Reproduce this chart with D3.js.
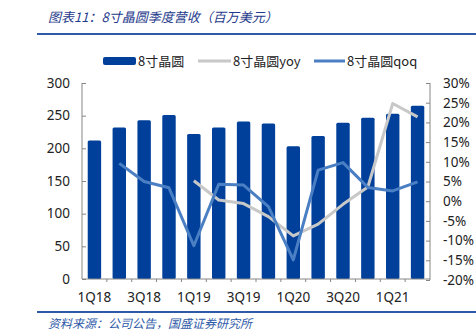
<!DOCTYPE html>
<html>
<head>
<meta charset="utf-8">
<script src="https://cdn.jsdelivr.net/npm/d3@7"></script>
<style>
  body { margin: 0; background: #fff; }
  svg { display: block; }
</style>
</head>
<body>
<svg width="476" height="336"></svg>
<script>
const quarters = ["1Q18", "2Q18", "3Q18", "4Q18", "1Q19", "2Q19", "3Q19", "4Q19",
                  "1Q20", "2Q20", "3Q20", "4Q20", "1Q21", "2Q21"];
const revenue = [212, 232, 243, 251, 222, 232, 241, 238, 203, 219, 239, 247, 253, 265];
const yoy = [null, null, null, null, 5.2, 0.3, -0.6, -3.9, -8.8, -5.8, -0.8, 3.6, 24.8, 21.4];
const qoq = [null, 9.6, 5.0, 3.4, -11.3, 4.3, 4.1, -1.4, -14.9, 7.9, 9.8, 3.5, 2.6, 4.9];
const leftTicks = [0, 50, 100, 150, 200, 250, 300];
const rightTicks = [-20, -15, -10, -5, 0, 5, 10, 15, 20, 25, 30];
const shownLabels = ["1Q18", "3Q18", "1Q19", "3Q19", "1Q20", "3Q20", "1Q21"];

const svg = d3.select("svg");
const font = "'Noto Sans', 'DejaVu Sans', sans-serif";
const cjk = "'Noto Sans CJK SC', sans-serif";

const x = d3.scaleBand().domain(quarters).range([82, 430]).paddingInner(0.46).paddingOuter(0.23);
const yL = d3.scaleLinear().domain([0, 300]).range([279, 83]);
const yR = d3.scaleLinear().domain([-20, 30]).range([280, 83]);

// title + rules
svg.append("text").attr("x", 48).attr("y", 22)
    .attr("font-family", cjk).attr("font-size", 13).attr("font-style", "italic")
    .attr("fill", "#1f3b8c").text("图表11：8寸晶圆季度营收（百万美元）");
svg.append("line").attr("x1", 37).attr("x2", 476).attr("y1", 34).attr("y2", 34)
    .attr("stroke", "#2e5aa8").attr("stroke-width", 2);
svg.append("line").attr("x1", 37).attr("x2", 476).attr("y1", 312).attr("y2", 312)
    .attr("stroke", "#2e5aa8").attr("stroke-width", 2);
svg.append("text").attr("x", 48).attr("y", 328)
    .attr("font-family", cjk).attr("font-size", 12).attr("font-style", "italic")
    .attr("fill", "#2e5aa8").text("资料来源：公司公告，国盛证券研究所");

// bars
svg.append("g").selectAll("rect")
    .data(quarters)
    .enter().append("rect")
    .attr("x", d => x(d))
    .attr("width", x.bandwidth())
    .attr("y", (d, i) => yL(revenue[i]))
    .attr("height", (d, i) => yL(0) - yL(revenue[i]))
    .attr("rx", 1.5)
    .attr("fill", "#00409a");

// lines
const cx = d => x(d) + x.bandwidth() / 2;
function drawLine(vals, color) {
    const line = d3.line()
        .defined(d => d[1] !== null)
        .x(d => cx(d[0]))
        .y(d => yR(d[1]));
    svg.append("path")
        .datum(quarters.map((q, i) => [q, vals[i]]))
        .attr("d", line)
        .attr("fill", "none")
        .attr("stroke", color)
        .attr("stroke-width", 3)
        .attr("stroke-linejoin", "round");
}
drawLine(yoy, "#c8c8c8");
drawLine(qoq, "#4a7fc4");

// axes
const axisColor = "#868686";
const gL = svg.append("g").attr("transform", "translate(82,0)")
    .call(d3.axisRight(yL).tickValues(leftTicks).tickSize(4).tickFormat(d3.format("d")));
gL.selectAll("text").attr("x", -12).attr("text-anchor", "end");
const gR = svg.append("g").attr("transform", "translate(430,0)")
    .call(d3.axisLeft(yR).tickValues(rightTicks).tickSize(4).tickFormat(d => d + "%"));
gR.selectAll("text").attr("x", 13).attr("text-anchor", "start");

const gX = svg.append("g").attr("transform", "translate(0,279)")
    .call(d3.axisBottom(x).tickSize(0).tickFormat(d => shownLabels.includes(d) ? d : ""));
gX.selectAll("text").attr("dy", 0).attr("y", 23);
// small ticks at band boundaries
gX.selectAll(".bt")
    .data(quarters.slice(1))
    .enter().append("line")
    .attr("x1", d => x(d) - x.step() * x.paddingInner() / 2)
    .attr("x2", d => x(d) - x.step() * x.paddingInner() / 2)
    .attr("y1", 0).attr("y2", 3)
    .attr("stroke", axisColor);

[gL, gR, gX].forEach(g => {
    g.select(".domain").attr("stroke", axisColor);
    g.selectAll(".tick line").attr("stroke", axisColor);
    g.selectAll("text").attr("font-family", font).attr("font-size", 13.5).attr("fill", "#222");
});
gL.select(".domain").attr("d", "M0,83V279");
gR.select(".domain").attr("d", "M0,83V280");
gX.select(".domain").attr("d", "M82,0H430");

// legend
const lg = svg.append("g").attr("font-size", 13).attr("fill", "#222");
lg.append("rect").attr("x", 103).attr("y", 57).attr("width", 33).attr("height", 8).attr("rx", 2).attr("fill", "#00409a");
lg.append("text").attr("x", 138).attr("y", 66).attr("font-family", cjk).text("8寸晶圆");
lg.append("line").attr("x1", 198).attr("x2", 231).attr("y1", 61).attr("y2", 61).attr("stroke", "#c8c8c8").attr("stroke-width", 3);
lg.append("text").attr("x", 233).attr("y", 66).attr("font-family", cjk).text("8寸晶圆yoy");
lg.append("line").attr("x1", 314).attr("x2", 345).attr("y1", 61).attr("y2", 61).attr("stroke", "#4a7fc4").attr("stroke-width", 3);
lg.append("text").attr("x", 347).attr("y", 66).attr("font-family", cjk).text("8寸晶圆qoq");
</script>
</body>
</html>
